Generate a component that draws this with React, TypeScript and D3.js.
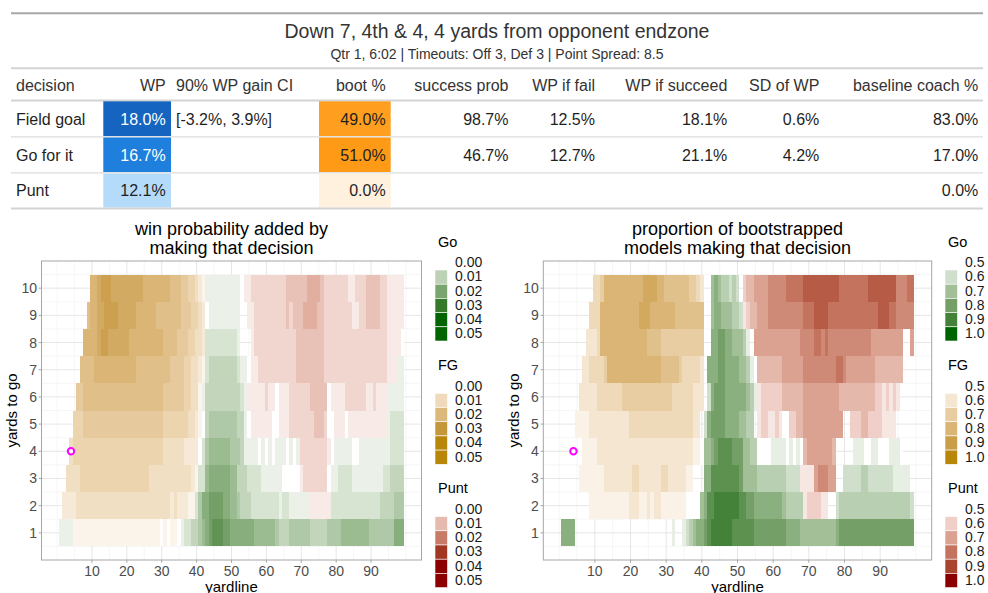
import React from 'react';
import * as d3 from 'd3';

// ---------------- Table data ----------------
const tableTitle = 'Down 7, 4th & 4, 4 yards from opponent endzone';
const tableSubtitle = 'Qtr 1, 6:02 | Timeouts: Off 3, Def 3 | Point Spread: 8.5';
const columnLabels = ['decision', 'WP', '90% WP gain CI', 'boot %', 'success prob', 'WP if fail', 'WP if succeed', 'SD of WP', 'baseline coach %'];
const decisions = ['Field goal', 'Go for it', 'Punt'];
const wpValues = [0.180, 0.167, 0.121];
const wpGainCI = ['[-3.2%, 3.9%]', '', ''];
const bootValues = [0.49, 0.51, 0.0];
const successProb: (number | null)[] = [0.987, 0.467, null];
const wpIfFail: (number | null)[] = [0.125, 0.127, null];
const wpIfSucceed: (number | null)[] = [0.181, 0.211, null];
const sdOfWp: (number | null)[] = [0.006, 0.042, null];
const baselineCoach = [0.83, 0.17, 0.0];

// ---------------- Heatmap data ----------------
// rows: yards to go 1..10 ; columns: yardline 1..99 (groups of 10, spaces ignored)
// decision codes: G = Go, F = Field goal, P = Punt, . = no tile
// Left plot: level digit = win probability added in units of 0.003
const WPA_UNIT = 0.003;
const wpaDecisionRows = [
  'GGGGFFFFFF FFFFFFFFFF FFFFFFFFFF FFFFFGGGGG GGGGGGGGGG GGGGGGGGGG GGGGGGGGGG GGGGGGGGGG GGGGGGGGGG GGGGGGGGG',
  '.FFFFFFFFF FFFFFFFFFF FFFFFFFFFF FFFFFFFFFG GGGGGGGGGG GGGGGGGGGG GGGGGGGGGG GGPPPPPPGG GGGGGGGGGG GGGGGGGGG',
  '..FFFFFFFF FFFFFFFFFF FFFFFFFFFF FFFFFFFFFF GGGGGGGGGG GGGGGGGGGG GGGGGGGGGP PPPPPPPPGG GGGGGGGGGG GGGGGGGGG',
  '...FFFFFFF FFFFFFFFFF FFFFFFFFFF FFFFFFFFFF FGGGGGGGGG GGGGGGGGGG GGGGGGGGGP PPPPPPPPGG GGGGGGGGGG GGGGGGGGG',
  '....FFFFFF FFFFFFFFFF FFFFFFFFFF FFFFFFFFFF FGGGGGGGGG GGGGGPPPPP PPPPPPPPPP PPPPPPPPPP PPPPPPPPPP PPPPGGGGG',
  '.....FFFFF FFFFFFFFFF FFFFFFFFFF FFFFFFFFFF FGGGGGGGGG GGGGPPPPPP PPPPPPPPPP PPPPPPPPPP PPPPPPPPPP PPPPGGGGG',
  '......FFFF FFFFFFFFFF FFFFFFFFFF FFFFFFFFFF FFGGGGGGGG GGGGGPPPPP PPPPPPPPPP PPPPPPPPPP PPPPPPPPPP PPPPPPPGG',
  '.......FFF FFFFFFFFFF FFFFFFFFFF FFFFFFFFFF FFGGGGGGGG GG...PPPPP PPPPPPPPPP PPPPPPPPPP PPPPPPPPPP PPPPPPPPP',
  '........FF FFFFFFFFFF FFFFFFFFFF FFFFFFFFFF FFFGGGGGGG GG..PPPPPP PPPPPPPPPP PPPPPPPPPP PPPPPPPPPP PPPPPPPPP',
  '.........F FFFFFFFFFF FFFFFFFFFF FFFFFFFFFF FFGGGGGGGG GGPPPPPPPP PPPPPPPPPP PPPPPPPPPP PPPPPPPPPP PPPPPPPPP',
];
const wpaLevelRows = [
  '1111111111 1111111111 1111111110 1011012233 4567888776 6666665555 5543334444 4433333444 4555555554 444444666',
  '0222233333 3333333333 3333333333 3323222112 4667777665 5433322222 2221221111 1111111122 2222222222 223333444',
  '0033334444 4444444444 4444443333 3333333321 2256666665 5333222211 1111000001 2222222011 2222111111 111223333',
  '0003444444 4444444444 4444444444 3333332222 0245555554 4431111010 1011101012 2222222101 1111001111 111112222',
  '0000444555 5555555555 5555555555 4444444332 1034444444 4331011111 1001112222 2223332001 1101111111 111112222',
  '0000055666 6666666666 6666666666 5555554433 1133333333 3321111112 1101112222 2233333011 1122222211 211111111',
  '0000006666 7777777777 7766666666 6655554433 2123333333 3211011222 2222222233 3333332222 2222222222 222211111',
  '0000000777 7899888888 7777777777 6666555443 3222222222 2100012222 2222222233 3333332222 2222222222 222211110',
  '0000000067 7889999888 8877777766 6666655544 3201111111 1100112222 2222232333 4444332222 2222112233 332211111',
  '0000000007 7899988888 8888777777 7766655443 2111111111 1101122222 2222233333 3444432222 2221122233 332211111',
];
// Right plot: level digit = bootstrap proportion 0.5 + digit * 0.05
const BOOT_BASE = 0.5;
const BOOT_UNIT = 0.05;
const bootDecisionRows = [
  'GGGG...... .......... .......... .G..GGGGGG GGGGGGGGGG GGGGGGGGGG GGGGGGGGGG GGGGGGGGGG GGGGGGGGGG GGGGGGGGG',
  '........FF FFFFFFFFFF FFFFFFFFFF FFFFFFFFFG GGGGGGGGGG GGGGGGGGGG GGGGGGGGPP PPPPP..GGG GGGGGGGGGG GGGGGGGGG',
  '.....FFFFF FFFFFFFFFF FFFFFFFFFF FFFFFFF... GGGGGGGGGG GGGGGGGGGG GGGGGGGPPP PPPPPPP..G GGGGGGGGGG GGGGGGGG.',
  '.....FFFFF FFFFFFFFFF FFFFFFFFFF FFFFFFFFFF GGGGGGGGGG GGGGGGGGGG GGGGGGGGPP PPPPPPP... ..GGGGGGGG GGGGGG...',
  '....FFFFFF FFFFFFFFFF FFFFFFFFFF FFFFFFFFF. GGGGGGGGGG GGGG.PPPPP PPPPPPPPPP PPPPPPPPP. .PPPPPPPPP PPPP.....',
  '.....FFFFF FFFFFFFFFF FFFFFFFFFF FFFFFFFFFF .GGGGGGGGG GGGGGPPPPP PPPPPPPPPP PPPPPPPPPP PPPPPPPPPP PPPPP....',
  '......FFFF FFFFFFFFFF FFFFFFFFFF FFFFFFFFFF .GGGGGGGGG GGGGGPPPPP PPPPPPPPPP PPPPPPPPPP PPPPPPPPPP PPPPPP...',
  '.......FFF FFFFFFFFFF FFFFFFFFFF FFFFFFFFFF ..GGGGGGGG GGG.PPPPPP PPPPPPPPPP PPPPPPPPPP PPPPPPPPPP PPPPPP..P',
  '........FF FFFFFFFFFF FFFFFFFFFF FFFFFFFFFF ..GGGGGGGG GPPPPPPPPP PPPPPPPPPP PPPPPPPPPP PPPPPPPPPP PPPPPPPPP',
  '.........F FFFFFFFFFF FFFFFFFFFF FFFFFFFFFF ..GGGGGGGG .PPPPPPPPP PPPPPPPPPP PPPPPPPPPP PPPPPPPPPP PPPPPPPPP',
];
const bootLevelRows = [
  '5555000000 0000000000 0000000000 0100123455 6788888877 7777666666 6665555444 4444444566 6666666666 666666666',
  '0000000011 1111111112 2211212211 1111100004 5778888888 7766555555 5543333312 2221100233 3333333333 333333332',
  '0000011111 1122222222 3322222233 2222211000 5577777777 6444433333 3332222111 1455544002 2222332222 222111110',
  '0000001111 2222222222 2222222222 2222222110 4456777766 6443300001 1110101034 4444443000 0011100110 001110000',
  '0000111122 2222222223 3333333333 3333333220 2566665555 4433012211 2100223344 4444444440 0222332222 111100000',
  '0000022222 3333333444 4444444444 4333333222 0256665555 5543112222 2233333344 4444444433 3333333322 121210000',
  '0000002233 3346666666 6666666655 5554333332 0555665555 4431033333 3344444455 5555555665 4444444433 333333000',
  '0000000222 3666666666 6666555544 4444444444 0055665544 4310444444 4444444555 5665655555 5555555444 444444004',
  '0000000033 3666666666 6677766666 6655555555 0045544433 2123344455 5555555566 6777766666 6666666667 776655555',
  '0000000003 3466666666 6667777665 5555554432 0045433232 0233444455 5556666677 7777777766 6666667777 777755566',
];
const currentSituation = { yardline: 4, ytg: 4 };
const xBreaks = [10, 20, 30, 40, 50, 60, 70, 80, 90];
const yBreaks = [1, 2, 3, 4, 5, 6, 7, 8, 9, 10];
const wpaLegendValues = [0, 0.01, 0.02, 0.03, 0.04, 0.05];
const bootLegendValues = [0.5, 0.6, 0.7, 0.8, 0.9, 1.0];
const decisionNames: [string, string][] = [['G', 'Go'], ['F', 'FG'], ['P', 'Punt']];

// ---------------- helpers ----------------
type Cell = { ytg: number; yard: number; dec: string; value: number };
function parseRows(decRows: string[], lvlRows: string[], toValue: (d: number) => number): Cell[] {
  const cells: Cell[] = [];
  decRows.forEach((dr, r) => {
    const d = dr.replace(/ /g, '');
    const l = lvlRows[r].replace(/ /g, '');
    for (let i = 0; i < d.length; i++) {
      if (d[i] === '.') continue;
      cells.push({ ytg: r + 1, yard: i + 1, dec: d[i], value: toValue(+(l[i] || '0')) });
    }
  });
  return cells;
}
const wpaCells = parseRows(wpaDecisionRows, wpaLevelRows, (d) => d * WPA_UNIT);
const bootCells = parseRows(bootDecisionRows, bootLevelRows, (d) => BOOT_BASE + d * BOOT_UNIT);

const baseColors: Record<string, string> = { G: '#006400', F: '#B8860B', P: '#8B0000' };
const makeScales = (domain: [number, number]) => {
  const s: Record<string, any> = {};
  for (const k of Object.keys(baseColors)) {
    s[k] = d3.scaleSequential(d3.interpolateLab('#ffffff', baseColors[k])).domain(domain).clamp(true);
  }
  return s;
};
const wpaScales = makeScales([0, 0.035]);
const bootScales = makeScales([0.5, 1.0]);

const FONT = '"Liberation Sans", Arial, Helvetica, sans-serif';

type HeatProps = {
  cells: Cell[];
  scales: Record<string, any>;
  x0: number;
  x1: number;
  titleLines: string[];
  legendValues: number[];
  legendFormat: (v: number) => string;
  legendX: number;
};

function Heatmap({ cells, scales, x0, x1, titleLines, legendValues, legendFormat, legendX }: HeatProps) {
  const x = d3.scaleLinear().domain([-4.45, 104.45]).range([x0, x1]);
  const y = d3.scaleLinear().domain([0, 11]).range([560, 261]);
  const top = y(11), bottom = y(0);
  const minorX = [0, 5, 15, 25, 35, 45, 55, 65, 75, 85, 95, 100];
  const minorY = d3.range(0.5, 11, 1);
  const cx = (x0 + x1) / 2;
  return (
    <g fontFamily={FONT}>
      {titleLines.map((t, i) => (
        <text key={t} x={cx} y={234.8 + i * 19.4} textAnchor="middle" fontSize={18} fill="#000">{t}</text>
      ))}
      <rect x={x0} y={top} width={x1 - x0} height={bottom - top} fill="#fff" />
      {minorX.map((v) => (
        <line key={'mx' + v} x1={x(v)} x2={x(v)} y1={top} y2={bottom} stroke="#f0f0f0" strokeWidth={0.6} />
      ))}
      {minorY.map((v) => (
        <line key={'my' + v} y1={y(v)} y2={y(v)} x1={x0} x2={x1} stroke="#f0f0f0" strokeWidth={0.6} />
      ))}
      {xBreaks.map((v) => (
        <line key={'gx' + v} x1={x(v)} x2={x(v)} y1={top} y2={bottom} stroke="#e6e6e6" strokeWidth={1} />
      ))}
      {yBreaks.map((v) => (
        <line key={'gy' + v} y1={y(v)} y2={y(v)} x1={x0} x2={x1} stroke="#e6e6e6" strokeWidth={1} />
      ))}
      <g shapeRendering="crispEdges">
        {cells.map((c) => (
          <rect
            key={c.ytg + '-' + c.yard}
            x={x(c.yard - 0.5)}
            width={x(c.yard + 0.5) - x(c.yard - 0.5)}
            y={y(c.ytg + 0.5)}
            height={y(c.ytg - 0.5) - y(c.ytg + 0.5)}
            fill={scales[c.dec](c.value)}
          />
        ))}
      </g>
      <circle cx={x(currentSituation.yardline)} cy={y(currentSituation.ytg)} r={3.2} fill="#fff" stroke="#ff00ff" strokeWidth={2} />
      <rect x={x0} y={top} width={x1 - x0} height={bottom - top} fill="none" stroke="#a6a6a6" strokeWidth={1} />
      {yBreaks.map((v) => (
        <g key={'ty' + v}>
          <line x1={x0 - 2.75} x2={x0} y1={y(v)} y2={y(v)} stroke="#a6a6a6" />
          <text x={x0 - 4.5} y={y(v) + 5} textAnchor="end" fontSize={14} fill="#4d4d4d">{v}</text>
        </g>
      ))}
      {xBreaks.map((v) => (
        <g key={'tx' + v}>
          <line x1={x(v)} x2={x(v)} y1={bottom} y2={bottom + 2.75} stroke="#a6a6a6" />
          <text x={x(v)} y={576} textAnchor="middle" fontSize={14} fill="#4d4d4d">{v}</text>
        </g>
      ))}
      <text x={cx} y={591.5} textAnchor="middle" fontSize={15} fill="#000">yardline</text>
      <text transform={`translate(${x0 - 24.5},${(top + bottom) / 2}) rotate(-90)`} textAnchor="middle" fontSize={15} fill="#000">yards to go</text>
      {decisionNames.map(([code, name], bi) => {
        const titleY = 241.7 + bi * 123.3;
        const keyTop = titleY + 14.1;
        const kh = 14.2;
        return (
          <g key={code}>
            <text x={legendX + 3} y={titleY + 5} fontSize={14.5} fill="#000">{name}</text>
            {legendValues.map((v, k) => (
              <g key={k}>
                <rect x={legendX} y={keyTop + k * kh} width={12.5} height={kh} fill={scales[code](v)} stroke="#ffffff" strokeWidth={0.6} />
                <text x={legendX + 20} y={keyTop + k * kh + kh / 2 + 4.3} fontSize={14} fill="#1a1a1a">{legendFormat(v)}</text>
              </g>
            ))}
          </g>
        );
      })}
    </g>
  );
}

function Table() {
  const pct = d3.format('.1%');
  const wpColor = d3.scaleLinear<string>().domain([0.121, 0.167, 0.18]).range(['#B5DBFA', '#1E7FDD', '#1565C0']);
  const bootColor = d3.scaleLinear<string>().domain([0, 0.49, 0.51]).range(['#FFF1DE', '#FF9E1F', '#FF9A16']);
  const rowTop = [101.3, 137.5, 173.6];
  const rowBottom = [136.1, 172.1, 207.5];
  const textColor = '#333333';
  const fs = 16;
  const cols: [number, 'start' | 'end'][] = [
    [16, 'start'], [165.7, 'end'], [176, 'start'], [385.7, 'end'], [508.5, 'end'],
    [595, 'end'], [727.3, 'end'], [819.3, 'end'], [978.3, 'end'],
  ];
  const left = 11, right = 983;
  const rowVals = decisions.map((d, i) => [
    d,
    pct(wpValues[i]),
    wpGainCI[i],
    pct(bootValues[i]),
    successProb[i] == null ? '' : pct(successProb[i] as number),
    wpIfFail[i] == null ? '' : pct(wpIfFail[i] as number),
    wpIfSucceed[i] == null ? '' : pct(wpIfSucceed[i] as number),
    sdOfWp[i] == null ? '' : pct(sdOfWp[i] as number),
    pct(baselineCoach[i]),
  ]);
  return (
    <g fontFamily={FONT}>
      <line x1={left} x2={right} y1={13.3} y2={13.3} stroke="#a8a8a8" strokeWidth={2} />
      <text x={(left + right) / 2} y={37.5} textAnchor="middle" fontSize={19.5} fill={textColor}>{tableTitle}</text>
      <text x={(left + right) / 2} y={58.5} textAnchor="middle" fontSize={14} fill={textColor}>{tableSubtitle}</text>
      <line x1={left} x2={right} y1={68.3} y2={68.3} stroke="#d3d3d3" strokeWidth={2} />
      {columnLabels.map((c, j) => (
        <text key={c} x={cols[j][0]} y={90.8} textAnchor={cols[j][1]} fontSize={fs} fill={textColor}>{c}</text>
      ))}
      <line x1={left} x2={right} y1={100.4} y2={100.4} stroke="#d3d3d3" strokeWidth={2} />
      {decisions.map((d, i) => (
        <g key={d}>
          <rect x={103.3} y={rowTop[i]} width={171 - 103.3} height={rowBottom[i] - rowTop[i]} fill={wpColor(wpValues[i])} />
          <rect x={319} y={rowTop[i]} width={390.7 - 319} height={rowBottom[i] - rowTop[i]} fill={bootColor(bootValues[i])} />
          {rowVals[i].map((v, j) => (
            <text
              key={j}
              x={cols[j][0]}
              y={(rowTop[i] + rowBottom[i]) / 2 + 5.8}
              textAnchor={cols[j][1]}
              fontSize={fs}
              fill={j === 1 && wpValues[i] > 0.15 ? '#ffffff' : '#1f1f1f'}
            >
              {v}
            </text>
          ))}
          {i < decisions.length - 1 && (
            <line x1={left} x2={right} y1={rowBottom[i] + 0.7} y2={rowBottom[i] + 0.7} stroke="#dcdcdc" strokeWidth={1.3} />
          )}
        </g>
      ))}
      <line x1={left} x2={right} y1={208.4} y2={208.4} stroke="#d3d3d3" strokeWidth={2} />
    </g>
  );
}

export default function App() {
  return (
    <svg
      width={988}
      height={593}
      viewBox="0 0 988 593"
      style={{ position: 'absolute', left: 0, top: 0, background: '#fff', display: 'block' }}
    >
      <rect width={988} height={593} fill="#fff" />
      <Table />
      <Heatmap
        cells={wpaCells}
        scales={wpaScales}
        x0={41.5}
        x1={421.5}
        titleLines={['win probability added by', 'making that decision']}
        legendValues={wpaLegendValues}
        legendFormat={d3.format('.2f')}
        legendX={435}
      />
      <Heatmap
        cells={bootCells}
        scales={bootScales}
        x0={543.3}
        x1={931.7}
        titleLines={['proportion of bootstrapped', 'models making that decision']}
        legendValues={bootLegendValues}
        legendFormat={d3.format('.1f')}
        legendX={945}
      />
    </svg>
  );
}
